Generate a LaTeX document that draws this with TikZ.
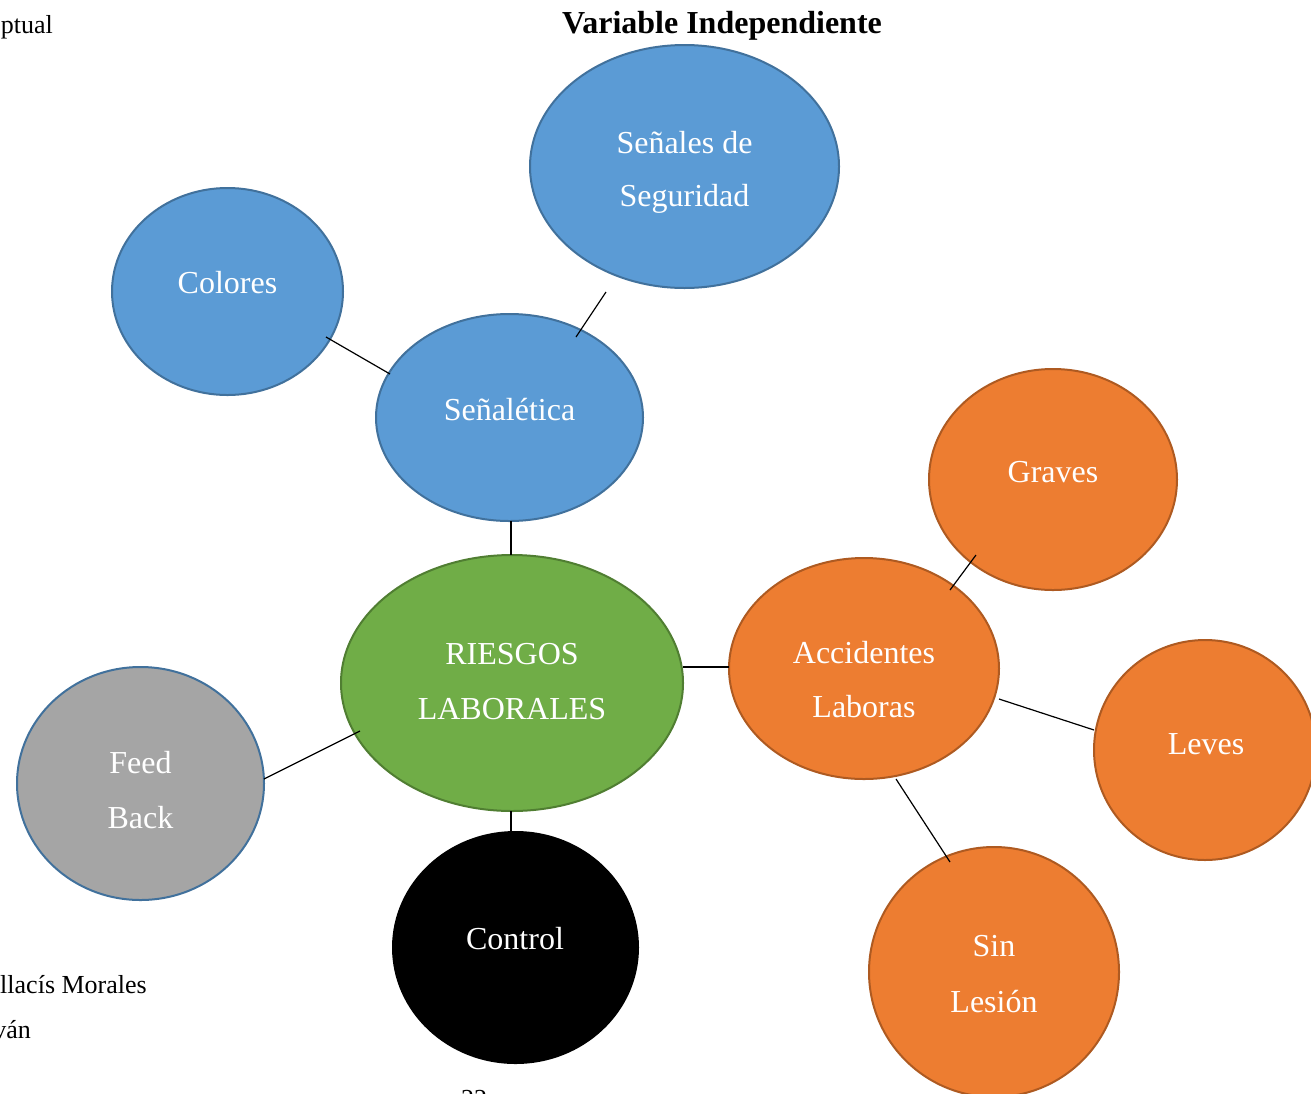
\documentclass[tikz,border=0pt]{standalone}
\usepackage{fontspec}
\setmainfont{Liberation Serif}
\usetikzlibrary{shapes.geometric}
\definecolor{cblue}{HTML}{5B9BD5}
\definecolor{cblueb}{HTML}{41719C}
\definecolor{cgreen}{HTML}{70AD47}
\definecolor{cgreenb}{HTML}{507E32}
\definecolor{corange}{HTML}{ED7D31}
\definecolor{corangeb}{HTML}{AE5A21}
\definecolor{cgray}{HTML}{A5A5A5}
\tikzset{
  ell/.style={ellipse, line width=2pt, inner sep=0pt},
  blueell/.style={ell, fill=cblue, draw=cblueb},
  greenell/.style={ell, fill=cgreen, draw=cgreenb},
  orangeell/.style={ell, fill=corange, draw=corangeb},
  grayell/.style={ell, fill=cgray, draw=cblueb},
  blackell/.style={ell, fill=black, draw=black},
  lbl/.style={anchor=base, text=white, inner sep=0pt, font=\fontsize{32}{38}\selectfont},
  side/.style={anchor=base east, inner sep=0pt, font=\fontsize{26}{31}\selectfont},
  conn/.style={draw=black, line width=1.2pt}
}
\begin{document}
\begin{tikzpicture}[x=1pt,y=-1pt]
\useasboundingbox (0,0) rectangle (1311,1093);
\clip (0,0) rectangle (1311,1093);
\fill[white] (0,0) rectangle (1311,1093);

% side texts
\node[side] (s1) at (53,33) {ptual};
\node[side] (s2) at (147,993) {llacís Morales};
\node[side] (s3) at (31,1038) {ván};
\node[anchor=base, inner sep=0pt, font=\fontsize{26}{31}\selectfont] (pg) at (474,1107) {22};
\node[anchor=base, inner sep=0pt, font=\fontsize{32}{38}\selectfont\bfseries] (title) at (722,33) {Variable Independiente};

% ellipses
\node[blueell, minimum width=309, minimum height=243] (senales) at (684.5,166.5) {};
\node[blueell, minimum width=231, minimum height=207] (colores) at (227.5,291.5) {};
\node[blueell, minimum width=267, minimum height=207] (senaletica) at (509.5,417.5) {};
\node[greenell, minimum width=342, minimum height=256] (riesgos) at (512,683) {};
\node[grayell, minimum width=247, minimum height=233] (feed) at (140.5,783.5) {};
\node[blackell, minimum width=245, minimum height=231] (control) at (515.5,947.5) {};
\node[orangeell, minimum width=270, minimum height=221] (accid) at (864,668.5) {};
\node[orangeell, minimum width=248, minimum height=221] (graves) at (1053,479.5) {};
\node[orangeell, minimum width=222, minimum height=220] (leves) at (1205,750) {};
\node[orangeell, minimum width=250, minimum height=250] (sin) at (994,972) {};

% texts
\node[lbl] (t-sen1) at (684.5,153) {Señales de};
\node[lbl] (t-sen2) at (684.5,206) {Seguridad};
\node[lbl] (t-col) at (227.5,293) {Colores};
\node[lbl] (t-seti) at (509.5,420) {Señalética};
\node[lbl] (t-ri1) at (512,664) {RIESGOS};
\node[lbl] (t-ri2) at (512,719) {LABORALES};
\node[lbl] (t-fe1) at (140.5,773) {Feed};
\node[lbl] (t-fe2) at (140.5,828) {Back};
\node[lbl] (t-con) at (515,949) {Control};
\node[lbl] (t-ac1) at (864,663) {Accidentes};
\node[lbl] (t-ac2) at (864,717) {Laboras};
\node[lbl] (t-gra) at (1053,482) {Graves};
\node[lbl] (t-lev) at (1206,754) {Leves};
\node[lbl] (t-si1) at (994,956) {Sin};
\node[lbl] (t-si2) at (994,1012) {Lesión};

% connector end points
\coordinate (c1a) at (606,292); \coordinate (c1b) at (576,337);
\coordinate (c2a) at (326,337); \coordinate (c2b) at (390,374);
\coordinate (c3a) at (511,521); \coordinate (c3b) at (511,555);
\coordinate (c4a) at (683,667); \coordinate (c4b) at (729,667);
\coordinate (c5a) at (360,731); \coordinate (c5b) at (264,779);
\coordinate (c6a) at (511,811); \coordinate (c6b) at (511,832);
\coordinate (c7a) at (976,555); \coordinate (c7b) at (950,590);
\coordinate (c8a) at (999,699); \coordinate (c8b) at (1094,730);
\coordinate (c9a) at (896,779); \coordinate (c9b) at (950,862);

\draw[conn] (c1a) -- (c1b);
\draw[conn] (c2a) -- (c2b);
\draw[conn] (c3a) -- (c3b);
\draw[conn] (c4a) -- (c4b);
\draw[conn] (c5a) -- (c5b);
\draw[conn] (c6a) -- (c6b);
\draw[conn] (c7a) -- (c7b);
\draw[conn] (c8a) -- (c8b);
\draw[conn] (c9a) -- (c9b);
\end{tikzpicture}
\end{document}
